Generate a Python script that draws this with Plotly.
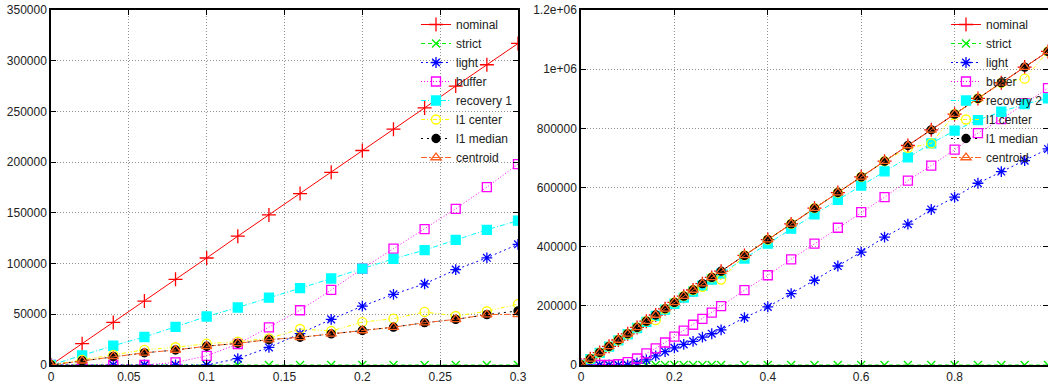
import plotly.graph_objects as go

# ---------------- data ----------------
x_left = [0, 0.02, 0.04, 0.06, 0.08, 0.1, 0.12, 0.14, 0.16, 0.18, 0.2, 0.22, 0.24, 0.26, 0.28, 0.3]
nominal_left = [0, 21000, 42000, 63000, 84500, 105500, 127000, 148000, 169000, 190000, 211500, 232500, 253500, 275000, 296000, 317000]
strict_left = [0] * 16
light_left = [0, 0, 0, 0, 0, 0, 6300, 17300, 31000, 45000, 58000, 69700, 80000, 94000, 105700, 119000]
buffer_left = [0, 0, 0, 0, 2500, 9000, 20700, 37000, 54000, 74000, 95000, 114700, 134000, 154000, 175300, 198000]
recovery1_left = [0, 9500, 19000, 27600, 37500, 47800, 56700, 66500, 75700, 85300, 95000, 104700, 113300, 123300, 133300, 142300]
l1center_left = [0, 5000, 10000, 15000, 17500, 21000, 23000, 26300, 35500, 33500, 42300, 45700, 52300, 48300, 53000, 60000]
l1median_left = [0, 4200, 8500, 12000, 14800, 18500, 21400, 25000, 27300, 30700, 34000, 37300, 41700, 45000, 49700, 53300]
centroid_left = [0, 4200, 8500, 12000, 14800, 18500, 21400, 25000, 27300, 30700, 34000, 37300, 41700, 45000, 49700, 50000]

x_right = [0, 0.02, 0.04, 0.06, 0.08, 0.1, 0.12, 0.14, 0.16, 0.18, 0.2, 0.22, 0.24, 0.26, 0.28, 0.3,
           0.35, 0.4, 0.45, 0.5, 0.55, 0.6, 0.65, 0.7, 0.75, 0.8, 0.85, 0.9, 0.95, 1.0]
nominal_right = [0, 21000, 42000, 63000, 84500, 105500, 127000, 148000, 169000, 190000, 211500, 232500, 253500, 275000, 296000, 317000,
                 370500, 424000, 477000, 530000, 583000, 636000, 689000, 742000, 795000, 848000, 901000, 954000, 1007000, 1060000]
strict_right = [0] * 30
light_right = [0, 0, 0, 0, 0, 0, 6300, 17300, 31000, 45000, 58000, 69700, 80000, 94000, 105700, 119000,
               160000, 196500, 241600, 286500, 334600, 381800, 432400, 476000, 525700, 567200, 614400, 653800, 690800, 730300]
buffer_right = [0, 0, 0, 0, 2500, 10000, 22000, 39000, 56000, 76000, 96000, 116000, 136000, 156000, 177000, 199000,
                252800, 303300, 357200, 410100, 464000, 516600, 567200, 623500, 674000, 728000, 784000, 831000, 884000, 936000]
recovery2_right = [0, 20000, 41000, 62000, 83000, 104000, 125000, 146000, 166000, 187000, 207000, 228000, 248000, 268000, 289000, 309000,
                   360000, 410100, 460700, 508900, 558400, 606600, 654800, 702000, 749000, 792000, 828000, 856000, 882000, 901000]
l1center_right = [0, 21000, 42000, 63000, 84500, 105500, 127000, 148000, 151600, 190000, 211500, 232500, 253500, 263900, 296000, 288800,
                  370500, 424000, 477000, 530000, 583000, 636000, 689000, 733600, 749000, 848000, 901000, 954000, 968000, 1060000]
l1median_right = [0, 21000, 42000, 63000, 84500, 105500, 127000, 148000, 169000, 190000, 211500, 232500, 253500, 275000, 296000, 317000,
                  370500, 424000, 477000, 530000, 583000, 636000, 689000, 742000, 795000, 848000, 901000, 954000, 1007000, 1060000]
centroid_right = [0, 21000, 42000, 63000, 84500, 105500, 127000, 148000, 169000, 190000, 211500, 232500, 253500, 275000, 296000, 317000,
                  370500, 424000, 477000, 530000, 583000, 636000, 689000, 742000, 795000, 848000, 901000, 954000, 1007000, 1060000]

left_yticks = [0, 50000, 100000, 150000, 200000, 250000, 300000, 350000]
left_yticktext = ["0", "50000", "100000", "150000", "200000", "250000", "300000", "350000"]
left_xticks = [0, 0.05, 0.1, 0.15, 0.2, 0.25, 0.3]
left_xticktext = ["0", "0.05", "0.1", "0.15", "0.2", "0.25", "0.3"]
right_yticks = [0, 200000, 400000, 600000, 800000, 1000000, 1200000]
right_yticktext = ["0", "200000", "400000", "600000", "800000", "1e+06", "1.2e+06"]
right_xticks = [0, 0.2, 0.4, 0.6, 0.8]
right_xticktext = ["0", "0.2", "0.4", "0.6", "0.8"]

# ---------------- styles ----------------
styles = {
    "nominal":  dict(color="#ff0000", dash="solid", symbol="cross-thin-open", size=10),
    "strict":   dict(color="#00ee00", dash="4px,3px", symbol="x-thin-open", size=8),
    "light":    dict(color="#0000ff", dash="2px,3px", symbol="asterisk-open", size=9),
    "buffer":   dict(color="#ff00ff", dash="1px,2px", symbol="square-open", size=9),
    "recovery": dict(color="#00ffff", dash="5px,2px,1px,2px", symbol="square", size=9),
    "l1 center": dict(color="#ffff00", dash="4px,2px,1px,2px,1px,2px", symbol="circle-open", size=9),
    "l1 median": dict(color="#000000", dash="2px,4px", symbol="circle", size=8),
    "centroid": dict(color="#ff6020", dash="6px,2px,2px,2px", symbol="triangle-up-open", size=9),
}

fig = go.Figure()

def add(name, key, xs, ys, xa, ya, legend):
    s = styles[key]
    fig.add_trace(go.Scatter(
        x=xs, y=ys, name=name, mode="lines+markers",
        xaxis=xa, yaxis=ya, legend=legend, cliponaxis=True,
        line=dict(color=s["color"], dash=s["dash"], width=1),
        marker=dict(symbol=s["symbol"], size=s["size"], color=s["color"],
                    line=dict(color=s["color"], width=1.3)),
    ))

left_series = [("nominal", "nominal", nominal_left), ("strict", "strict", strict_left),
               ("light", "light", light_left), ("buffer", "buffer", buffer_left),
               ("recovery 1", "recovery", recovery1_left), ("l1 center", "l1 center", l1center_left),
               ("l1 median", "l1 median", l1median_left), ("centroid", "centroid", centroid_left)]
right_series = [("nominal", "nominal", nominal_right), ("strict", "strict", strict_right),
                ("light", "light", light_right), ("buffer", "buffer", buffer_right),
                ("recovery 2", "recovery", recovery2_right), ("l1 center", "l1 center", l1center_right),
                ("l1 median", "l1 median", l1median_right), ("centroid", "centroid", centroid_right)]

for name, key, ys in left_series:
    add(name, key, x_left, ys, "x", "y", "legend")
for name, key, ys in right_series:
    add(name, key, x_right, ys, "x2", "y2", "legend2")

W, H = 1048, 385
ml, mr, mt, mb = 51, 0, 10, 20
pw = W - ml - mr
d1 = (518 - ml) / pw
d2 = (581 - ml) / pw

tickfont = dict(family="Liberation Sans, Arial, sans-serif", size=12, color="#222222")
common = dict(showgrid=True, gridcolor="#909090", griddash="1px,2px", gridwidth=1,
              zeroline=False, showline=True, linecolor="black", linewidth=1.5,
              mirror="ticks", ticks="inside", ticklen=5, tickcolor="black",
              tickfont=tickfont)

fig.update_layout(
    width=W, height=H,
    margin=dict(l=ml, r=mr, t=mt, b=mb, autoexpand=False),
    paper_bgcolor="white", plot_bgcolor="white",
    font=dict(family="Liberation Sans, Arial, sans-serif", size=12, color="#222222"),
    xaxis=dict(domain=[0, d1], range=[0, 0.3], tickvals=left_xticks, ticktext=left_xticktext, anchor="y", **common),
    yaxis=dict(domain=[0, 1], range=[0, 350000], tickvals=left_yticks, ticktext=left_yticktext, anchor="x", **common),
    xaxis2=dict(domain=[d2, 1], range=[0, 1.0], tickvals=right_xticks, ticktext=right_xticktext, anchor="y2", **common),
    yaxis2=dict(domain=[0, 1], range=[0, 1200000], tickvals=right_yticks, ticktext=right_yticktext, anchor="x2", **common),
    legend=dict(x=d1, xanchor="right", y=1, yanchor="top", bgcolor="rgba(0,0,0,0)",
                font=dict(size=12), tracegroupgap=0, itemwidth=30),
    legend2=dict(x=1, xanchor="right", y=1, yanchor="top", bgcolor="rgba(0,0,0,0)",
                 font=dict(size=12), tracegroupgap=0, itemwidth=30),
    showlegend=True,
)

fig.write_html("out.html", config={"displayModeBar": False},
               post_script="document.body.style.margin='0';document.body.style.overflow='hidden';")
